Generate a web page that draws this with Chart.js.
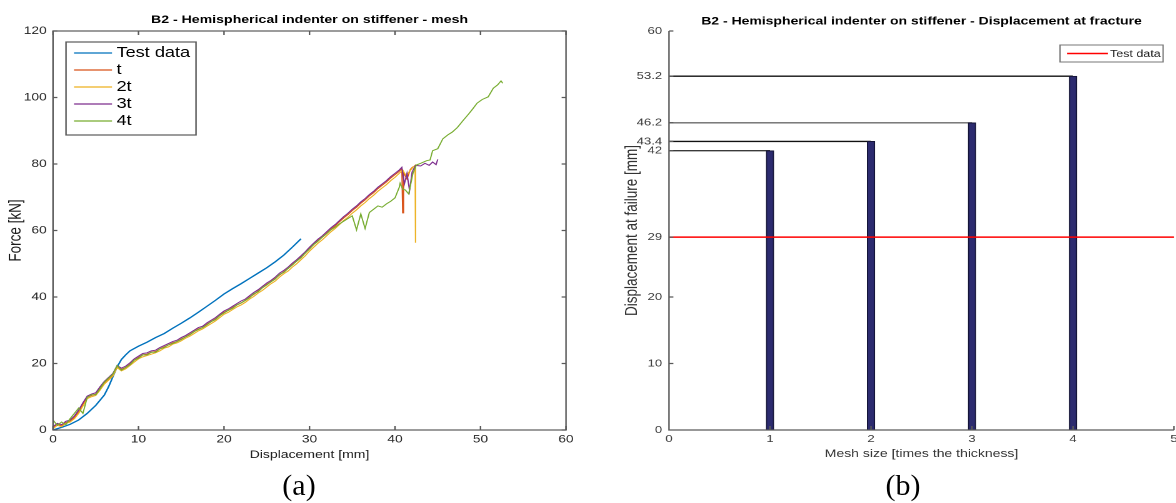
<!DOCTYPE html>
<html>
<head>
<meta charset="utf-8">
<script src="https://cdn.jsdelivr.net/npm/chart.js@4.4.1/dist/chart.umd.min.js"></script>
<style>
  html, body { margin: 0; padding: 0; background: #fff; width: 1176px; height: 503px; overflow: hidden; position: relative; }
  /* the original figure is stretched sideways, so each panel is drawn narrow and scaled in x */
  .panel { position: absolute; top: 0; width: 480px; height: 470px; transform: scaleX(1.25); transform-origin: 0 0; }
  #pa { left: 0; }
  #pb { left: 590px; }
  .cap { position: absolute; top: 468px; width: 100px; text-align: center; font-family: "Liberation Serif", "Times New Roman", serif; font-size: 30px; line-height: 34px; color: #000; }
</style>
</head>
<body>
<div class="panel" id="pa"><canvas id="ca" width="480" height="470"></canvas></div>
<div class="panel" id="pb"><canvas id="cb" width="480" height="470"></canvas></div>
<div class="cap" style="left:249px">(a)</div>
<div class="cap" style="left:853px">(b)</div>
<script>
// ---- panel (a): force vs displacement ----
const testX = [0, 1, 2, 3, 4, 5, 6, 6.5, 7, 7.5, 8, 8.5, 9, 10, 11, 12, 13, 14, 15, 16, 17, 18, 19, 20, 21, 22, 23, 24, 25, 26, 27, 28, 29];
const testY = [0, 0.8, 1.7, 3, 5, 7.4, 10.5, 13, 16, 19, 21.2, 22.6, 23.8, 25.2, 26.4, 27.8, 29, 30.6, 32.1, 33.7, 35.4, 37.2, 39.0, 40.9, 42.5, 44.0, 45.6, 47.2, 48.8, 50.6, 52.6, 55, 57.5];

const simX = [
  0, 0.5, 1, 1.5, 2, 2.5, 3, 3.5, 4, 4.5,
  5, 5.5, 6, 6.5, 7, 7.5, 8, 8.5, 9, 9.5,
  10, 10.5, 11, 11.5, 12, 12.5, 13, 13.5, 14, 14.5,
  15, 15.5, 16, 16.5, 17, 17.5, 18, 18.5, 19, 19.5,
  20, 20.5, 21, 21.5, 22, 22.5, 23, 23.5, 24, 24.5,
  25, 25.5, 26, 26.5, 27, 27.5, 28, 28.5, 29, 29.5,
  30, 30.5, 31, 31.5, 32, 32.5, 33, 33.5, 34, 34.5,
  35, 35.5, 36, 36.5, 37, 37.5, 38, 38.5, 39, 39.5,
  40, 40.5
];
const simT = [
  0.8, 1.8, 1.2, 2.2, 2.6, 3.8, 5.5, 7.8, 9.8, 10.4,
  10.8, 12.6, 14.2, 15.4, 16.6, 19.2, 18.2, 18.8, 19.8, 21.0,
  21.8, 22.6, 22.8, 23.4, 23.6, 24.4, 25.0, 25.6, 26.2, 26.6,
  27.4, 28.0, 28.8, 29.6, 30.4, 30.8, 31.8, 32.6, 33.4, 34.4,
  35.4, 36.0, 36.8, 37.6, 38.2, 39.0, 40.0, 40.8, 41.8, 42.8,
  43.8, 44.6, 45.6, 46.6, 47.6, 48.6, 49.8, 50.8, 52.0, 53.2,
  54.6, 55.8, 57.0, 58.0, 59.2, 60.4, 61.4, 62.6, 63.8, 64.8,
  66.0, 67.0, 68.2, 69.2, 70.4, 71.4, 72.6, 73.6, 74.6, 75.8,
  76.8, 77.8
];
const sim2T = [
  0.4, 1.4, 1.0, 2.0, 2.4, 3.4, 5.0, 7.2, 9.4, 10.0,
  10.4, 12.0, 13.8, 15.0, 16.2, 18.8, 17.8, 18.4, 19.4, 20.4,
  21.4, 22.0, 22.4, 22.8, 23.2, 23.8, 24.6, 25.0, 25.8, 26.2,
  26.8, 27.6, 28.2, 29.0, 29.8, 30.4, 31.2, 32.0, 32.8, 33.8,
  34.8, 35.4, 36.2, 37.0, 37.6, 38.4, 39.4, 40.2, 41.2, 42.0,
  43.0, 44.0, 44.8, 46.0, 47.0, 47.8, 49.0, 50.0, 51.2, 52.4,
  53.8, 55.0, 56.2, 57.2, 58.4, 59.6, 60.6, 61.8, 63.0, 64.0,
  65.2, 66.2, 67.4, 68.4, 69.6, 70.6, 71.8, 72.8, 73.8, 75.0,
  76.0, 77.2
];
const sim3T = [
  1.0, 2.0, 1.6, 2.6, 3.0, 4.2, 6.0, 8.2, 10.2, 10.8,
  11.2, 13.0, 14.6, 15.8, 17.0, 19.4, 18.6, 19.2, 20.2, 21.4,
  22.2, 23.0, 23.2, 23.8, 24.0, 24.8, 25.4, 26.0, 26.6, 27.0,
  27.8, 28.4, 29.2, 30.0, 30.8, 31.2, 32.2, 33.0, 33.8, 34.8,
  35.8, 36.4, 37.2, 38.0, 38.8, 39.4, 40.4, 41.4, 42.2, 43.2,
  44.2, 45.0, 46.0, 47.2, 48.0, 49.0, 50.2, 51.2, 52.4, 53.6,
  55.0, 56.2, 57.4, 58.4, 59.6, 60.8, 61.8, 63.0, 64.2, 65.2,
  66.4, 67.4, 68.6, 69.6, 70.8, 71.8, 73.0, 74.0, 75.0, 76.2,
  77.2, 78.2
];
const sim4T = [
  3.0, 1.4, 2.4, 1.6, 3.4, 5.0, 6.6, 5.0, 9.8, 10.6,
  10.6, 12.4, 14.4, 15.6, 16.8, 19.4, 18.0, 18.8, 19.6, 21.0,
  21.6, 22.6, 22.6, 23.4, 23.4, 24.4, 24.8, 25.6, 26.0, 26.6,
  27.2, 28.0, 28.6, 29.6, 30.2, 30.8, 31.6, 32.6, 33.2, 34.4,
  35.2, 36.0, 36.6, 37.6, 38.2, 39.0, 39.8, 41.0, 41.6, 42.8,
  43.6, 44.6, 45.4, 46.8, 47.4, 48.6, 49.6, 50.8, 51.8, 53.2,
  54.4, 55.8, 56.8, 58.0, 59.0, 60.2, 61.0, 62.0, 62.8, 63.6,
  64.4, 60.2, 65.0, 60.6, 65.4, 66.4, 67.4, 67.0, 68.0, 68.8,
  69.8, 73.0
];
// ends of each run, past the common grid: [displacement, force]
const tailT = [[40.8, 78.6], [40.9, 65.3], [41.0, 77.5], [41.4, 75.5], [41.8, 78.4], [42.1, 79.2]];
const tail2T = [[40.9, 78.2], [41.3, 76.4], [41.7, 77.8], [42.1, 79.0], [42.35, 79.6], [42.4, 56.3]];
const tail3T = [[40.8, 79.0], [41.1, 74.0], [41.4, 77.2], [41.7, 72.0], [42.0, 77.6], [42.4, 79.6], [43.0, 79.4],
  [43.5, 80.2], [44.0, 79.6], [44.4, 80.6], [44.8, 79.8], [45.0, 81.4]];
const tail4T = [[40.6, 74.2], [40.9, 72.4], [41.2, 72.2], [41.6, 71.0], [42.1, 77.2], [42.5, 79.7], [43.0, 80.2],
  [43.7, 81.0], [44.1, 81.2], [44.4, 84.0], [45.0, 84.6], [45.6, 87.6], [46.2, 88.8], [46.7, 89.6], [47.3, 91.0],
  [48.0, 93.2], [48.6, 95.0], [49.1, 96.6], [49.6, 98.3], [50.2, 99.4], [50.9, 100.2], [51.5, 102.8], [52.0, 103.8],
  [52.4, 105.0], [52.6, 104.3]];

const seriesLabels = ['Test data', 't', '2t', '3t', '4t'];
const seriesColors = ['#0072BD', '#D95319', '#EDB120', '#7E2F8E', '#77AC30'];

// ---- panel (b): displacement at fracture ----
const meshSizes = [1, 2, 3, 4];
const failDisp = [42, 43.4, 46.2, 53.2];
const testFailure = 29;
const dispTicks = [0, 10, 20, 29, 42, 43.4, 46.2, 53.2, 60];
const levelColors = ['#3a3a3a', '#111111', '#6a6a6a', '#111111'];

const FONT = '"Liberation Sans", Arial, Helvetica, sans-serif';
const AXIS_COLOR = '#5a5a5a';
const TICK_COLOR = '#262626';
Chart.defaults.font.family = FONT;

const toPts = (xs, ys) => xs.map((x, i) => ({ x, y: ys[i] }));
const pairPts = (pairs) => pairs.map(([x, y]) => ({ x, y }));

// MATLAB style box: frame, inward ticks, title, axis labels, legend
const frameA = {
  id: 'frameA',
  afterDatasetsDraw(chart) {
    const { ctx, chartArea: a, scales: { x, y } } = chart;
    ctx.save();
    ctx.strokeStyle = AXIS_COLOR;
    ctx.lineWidth = 1.2;
    ctx.strokeRect(a.left, a.top, a.right - a.left, a.bottom - a.top);
    ctx.beginPath();
    x.ticks.forEach((t) => {
      const px = x.getPixelForValue(t.value);
      ctx.moveTo(px, a.bottom); ctx.lineTo(px, a.bottom - 4);
      ctx.moveTo(px, a.top); ctx.lineTo(px, a.top + 4);
    });
    y.ticks.forEach((t) => {
      const py = y.getPixelForValue(t.value);
      ctx.moveTo(a.left, py); ctx.lineTo(a.left + 3.5, py);
      ctx.moveTo(a.right, py); ctx.lineTo(a.right - 3.5, py);
    });
    ctx.stroke();

    ctx.fillStyle = '#000';
    ctx.textAlign = 'center';
    ctx.textBaseline = 'alphabetic';
    ctx.font = `bold 11.3px ${FONT}`;
    ctx.fillText('B2 - Hemispherical indenter on stiffener - mesh', (a.left + a.right) / 2, 23);

    ctx.fillStyle = '#1a1a1a';
    ctx.font = `11.2px ${FONT}`;
    ctx.fillText('Displacement [mm]', (a.left + a.right) / 2, 458);

    ctx.save();
    ctx.translate(12.8, (a.top + a.bottom) / 2);
    ctx.rotate(-Math.PI / 2);
    ctx.textBaseline = 'middle';
    ctx.font = `13.5px ${FONT}`;
    ctx.fillText('Force [kN]', 0, 0);
    ctx.restore();

    // legend box
    const bx = 52.8, by = 42, bw = 104, bh = 93;
    ctx.fillStyle = '#fff';
    ctx.fillRect(bx, by, bw, bh);
    ctx.strokeStyle = AXIS_COLOR;
    ctx.lineWidth = 1.2;
    ctx.strokeRect(bx, by, bw, bh);
    ctx.font = `14.5px ${FONT}`;
    ctx.textAlign = 'left';
    ctx.textBaseline = 'middle';
    chart.data.datasets.forEach((ds, i) => {
      const ry = 53 + i * 17;
      ctx.strokeStyle = ds.borderColor;
      ctx.lineWidth = 1.2;
      ctx.beginPath();
      ctx.moveTo(59.2, ry); ctx.lineTo(89.6, ry);
      ctx.stroke();
      ctx.fillStyle = '#000';
      ctx.fillText(ds.label, 93.2, ry);
    });
    ctx.restore();
  },
};

const frameB = {
  id: 'frameB',
  afterDatasetsDraw(chart) {
    const { ctx, chartArea: a, scales: { x, y } } = chart;
    ctx.save();
    ctx.strokeStyle = AXIS_COLOR;
    ctx.lineWidth = 1.2;
    ctx.beginPath();
    ctx.moveTo(a.left, a.top); ctx.lineTo(a.left, a.bottom); ctx.lineTo(a.right, a.bottom);
    x.ticks.forEach((t) => {
      const px = x.getPixelForValue(t.value);
      ctx.moveTo(px, a.bottom); ctx.lineTo(px, a.bottom - 4);
    });
    y.ticks.forEach((t) => {
      const py = y.getPixelForValue(t.value);
      ctx.moveTo(a.left, py); ctx.lineTo(a.left + 3.5, py);
    });
    ctx.stroke();

    ctx.fillStyle = '#000';
    ctx.textAlign = 'center';
    ctx.textBaseline = 'alphabetic';
    ctx.font = `bold 11.2px ${FONT}`;
    ctx.fillText('B2 - Hemispherical indenter on stiffener - Displacement at fracture', (a.left + a.right) / 2, 24.5);

    ctx.fillStyle = '#333';
    ctx.font = `11.2px ${FONT}`;
    ctx.fillText('Mesh size [times the thickness]', (a.left + a.right) / 2, 457);

    ctx.save();
    ctx.translate(33.6, (a.top + a.bottom) / 2);
    ctx.rotate(-Math.PI / 2);
    ctx.textBaseline = 'middle';
    ctx.font = `13.5px ${FONT}`;
    ctx.fillText('Displacement at failure [mm]', 0, 0);
    ctx.restore();

    // legend for the test line
    const test = chart.data.datasets.find((ds) => ds.label === 'Test data');
    const bx = 376, by = 45, bw = 82.4, bh = 17;
    ctx.fillStyle = '#fff';
    ctx.fillRect(bx, by, bw, bh);
    ctx.strokeStyle = '#777';
    ctx.lineWidth = 1;
    ctx.strokeRect(bx, by, bw, bh);
    ctx.strokeStyle = test.borderColor;
    ctx.lineWidth = 1.5;
    ctx.beginPath();
    ctx.moveTo(381.6, 53.5); ctx.lineTo(414.4, 53.5);
    ctx.stroke();
    ctx.fillStyle = '#222';
    ctx.font = `10px ${FONT}`;
    ctx.textAlign = 'left';
    ctx.textBaseline = 'middle';
    ctx.fillText(test.label, 416, 54);
    ctx.restore();
  },
};

const simSeries = [simT, sim2T, sim3T, sim4T];
const simTails = [tailT, tail2T, tail3T, tail4T];

const datasetsA = [{
  label: seriesLabels[0],
  data: toPts(testX, testY),
  borderColor: seriesColors[0],
  borderWidth: 1.3,
  order: 4,
}].concat(simSeries.map((ys, k) => ({
  label: seriesLabels[k + 1],
  data: toPts(simX, ys).concat(pairPts(simTails[k])),
  borderColor: seriesColors[k + 1],
  borderWidth: 1,
  order: 3 - k,
})));
datasetsA.forEach((ds) => Object.assign(ds, { showLine: true, pointRadius: 0, fill: false, tension: 0 }));

new Chart(document.getElementById('ca'), {
  type: 'scatter',
  data: { datasets: datasetsA },
  options: {
    responsive: false,
    animation: false,
    devicePixelRatio: 2,
    events: [],
    layout: { padding: { left: 0, right: 27.2, top: 31, bottom: 0 } },
    plugins: { legend: { display: false }, tooltip: { enabled: false } },
    scales: {
      x: {
        type: 'linear',
        min: 0,
        max: 60,
        ticks: { stepSize: 10, color: TICK_COLOR, font: { size: 11 }, padding: 3, maxRotation: 0 },
        grid: { display: false, drawTicks: false },
        border: { display: false },
        afterFit(s) { s.height = 40; s.paddingLeft = 0; s.paddingRight = 0; },
      },
      y: {
        min: 0,
        max: 120,
        ticks: { stepSize: 20, color: TICK_COLOR, font: { size: 11 }, padding: 5 },
        grid: { display: false, drawTicks: false },
        border: { display: false },
        afterFit(s) { s.width = 42.4; s.paddingTop = 0; s.paddingBottom = 0; },
      },
    },
  },
  plugins: [frameA],
});

const datasetsB = [
  {
    type: 'bar',
    label: 'FE',
    data: toPts(meshSizes, failDisp),
    backgroundColor: '#2c2b6f',
    borderColor: '#141438',
    borderWidth: 1,
    barThickness: 6,
    order: 1,
  },
  ...failDisp.map((v, i) => ({
    type: 'line',
    label: 'level ' + v,
    data: [{ x: 0, y: v }, { x: meshSizes[i], y: v }],
    borderColor: levelColors[i],
    borderWidth: 1.4,
    pointRadius: 0,
    order: 2,
  })),
  {
    type: 'line',
    label: 'Test data',
    data: [{ x: 0, y: testFailure }, { x: 5, y: testFailure }],
    borderColor: '#ff0000',
    borderWidth: 1.5,
    pointRadius: 0,
    order: 0,
  },
];

new Chart(document.getElementById('cb'), {
  type: 'bar',
  data: { datasets: datasetsB },
  options: {
    responsive: false,
    animation: false,
    devicePixelRatio: 2,
    events: [],
    layout: { padding: { left: 0, right: 12.8, top: 31, bottom: 0 } },
    plugins: { legend: { display: false }, tooltip: { enabled: false } },
    scales: {
      x: {
        type: 'linear',
        min: 0,
        max: 5,
        offset: false,
        ticks: { stepSize: 1, color: '#3c3c3c', font: { size: 10.5 }, padding: 3, maxRotation: 0 },
        grid: { display: false, drawTicks: false, offset: false },
        border: { display: false },
        afterFit(s) { s.height = 40; s.paddingLeft = 0; s.paddingRight = 0; },
      },
      y: {
        type: 'linear',
        min: 0,
        max: 60,
        afterBuildTicks(s) { s.ticks = dispTicks.map((v) => ({ value: v })); },
        ticks: { autoSkip: false, color: '#3c3c3c', font: { size: 10.5 }, padding: 5.5, callback: (v) => String(v) },
        grid: { display: false, drawTicks: false },
        border: { display: false },
        afterFit(s) { s.width = 63.2; s.paddingTop = 0; s.paddingBottom = 0; },
      },
    },
  },
  plugins: [frameB],
});
</script>
</body>
</html>
